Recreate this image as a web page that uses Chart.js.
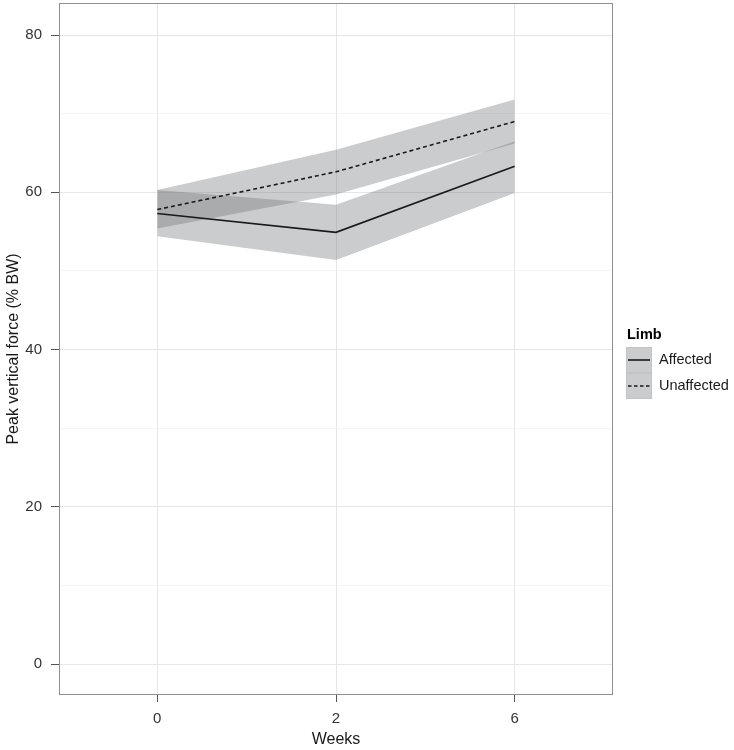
<!DOCTYPE html>
<html>
<head>
<meta charset="utf-8">
<script src="https://cdn.jsdelivr.net/npm/chart.js@4"></script>
<style>
  html, body { margin: 0; padding: 0; background: #fff; }
  #wrap { width: 734px; height: 750px; position: relative; }
</style>
</head>
<body>
<div id="wrap"><canvas id="chart"></canvas></div>
<script>
// weeks shown as evenly spaced categories
const weeks = ["0", "2", "6"];

// means
const affected = [57.3, 54.9, 63.3];
const unaffected = [57.8, 62.6, 69.0];

// ribbon bounds
const affectedLow = [54.4, 51.4, 59.9];
const affectedHigh = [60.3, 58.4, 66.5];
const unaffectedLow = [55.4, 59.7, 66.2];
const unaffectedHigh = [60.3, 65.4, 71.8];

const yTicks = [0, 20, 40, 60, 80];

function pts(arr) {
  return arr.map(function (v, i) { return { x: i, y: v }; });
}

const ribbonFill = "rgba(113,114,118,0.365)";
const lineColor = "#1a1a1a";
const font = "'Liberation Sans', Arial, sans-serif";

const framePlugin = {
  id: "frame",
  afterDraw(chart) {
    const c = chart.ctx;
    const a = chart.chartArea;
    c.save();
    c.strokeStyle = "#8f8f8f";
    c.lineWidth = 1;
    c.strokeRect(a.left + 0.5, a.top + 0.5, a.right - a.left - 1, a.bottom - a.top - 1);

    // legend
    const lx = 626, ly = 347, kw = 26, kh = 26;
    c.fillStyle = "#000";
    c.font = "bold 14.5px " + font;
    c.textBaseline = "middle";
    c.fillText("Limb", lx + 1, 335);
    const labels = ["Affected", "Unaffected"];
    for (let i = 0; i < 2; i++) {
      const y0 = ly + i * kh;
      c.fillStyle = ribbonFill;
      c.fillRect(lx, y0, kw, kh);
      c.strokeStyle = "#c4c4c4";
      c.lineWidth = 1;
      c.strokeRect(lx + 0.5, y0 + 0.5, kw - 1, kh - 1);
      c.strokeStyle = lineColor;
      c.lineWidth = 1.6;
      c.setLineDash(i === 1 ? [3.5, 2.5] : []);
      c.beginPath();
      c.moveTo(lx + 2, y0 + kh / 2);
      c.lineTo(lx + kw - 2, y0 + kh / 2);
      c.stroke();
      c.setLineDash([]);
      c.fillStyle = "#1a1a1a";
      c.font = "14.5px " + font;
      c.fillText(labels[i], lx + 33, y0 + kh / 2);
    }
    c.restore();
  }
};

new Chart(document.getElementById("chart"), {
  type: "line",
  data: {
    datasets: [
      { label: "Affected", data: pts(affected), borderColor: lineColor, borderWidth: 1.6,
        pointRadius: 0, fill: false, tension: 0, order: 0 },
      { label: "Unaffected", data: pts(unaffected), borderColor: lineColor, borderWidth: 1.6,
        borderDash: [4, 3], pointRadius: 0, fill: false, tension: 0, order: 0 },
      { label: "aLow", data: pts(affectedLow), borderWidth: 0, borderColor: "transparent",
        pointRadius: 0, fill: false, order: 1 },
      { label: "aHigh", data: pts(affectedHigh), borderWidth: 0, borderColor: "transparent",
        pointRadius: 0, fill: 2, backgroundColor: ribbonFill, order: 1 },
      { label: "uLow", data: pts(unaffectedLow), borderWidth: 0, borderColor: "transparent",
        pointRadius: 0, fill: false, order: 1 },
      { label: "uHigh", data: pts(unaffectedHigh), borderWidth: 0, borderColor: "transparent",
        pointRadius: 0, fill: 4, backgroundColor: ribbonFill, order: 1 }
    ]
  },
  options: {
    responsive: true,
    maintainAspectRatio: false,
    animation: false,
    layout: { padding: { left: 1, right: 121, top: 3, bottom: 0 } },
    plugins: { legend: { display: false }, tooltip: { enabled: false } },
    scales: {
      x: {
        type: "linear",
        min: -0.55,
        max: 2.55,
        afterBuildTicks: function (s) { s.ticks = weeks.map(function (w, i) { return { value: i }; }); },
        afterFit: function (s) { s.height = 55; s.paddingLeft = 0; s.paddingRight = 0; },
        ticks: {
          callback: function (v) { return weeks[v]; },
          color: "#333",
          font: { family: font, size: 15 },
          padding: 8
        },
        grid: { color: "#e6e6e6", tickColor: "#555", tickLength: 7, drawTicks: true },
        border: { display: false },
        title: { display: true, text: "Weeks", color: "#1a1a1a", font: { family: font, size: 16 }, padding: { top: 0, bottom: 1 } }
      },
      y: {
        min: -3.94,
        max: 84.07,
        afterBuildTicks: function (s) {
          const t = [];
          for (let v = 0; v <= 80; v += 10) t.push({ value: v });
          s.ticks = t;
        },
        afterFit: function (s) { s.width = 58; s.paddingTop = 0; s.paddingBottom = 0; },
        ticks: {
          callback: function (v) { return yTicks.indexOf(v) >= 0 ? String(v) : ""; },
          color: "#333",
          font: { family: font, size: 15 },
          padding: 9
        },
        grid: {
          color: function (ctx) { return ctx.tick && ctx.tick.value % 20 === 0 ? "#e6e6e6" : "#f4f4f4"; },
          tickColor: function (ctx) { return ctx.tick && ctx.tick.value % 20 === 0 ? "#555" : "rgba(0,0,0,0)"; },
          tickLength: 8
        },
        border: { display: false },
        title: { display: true, text: "Peak vertical force (% BW)", color: "#1a1a1a", font: { family: font, size: 16 }, padding: { top: 3, bottom: 0 } }
      }
    }
  },
  plugins: [framePlugin]
});
</script>
</body>
</html>
